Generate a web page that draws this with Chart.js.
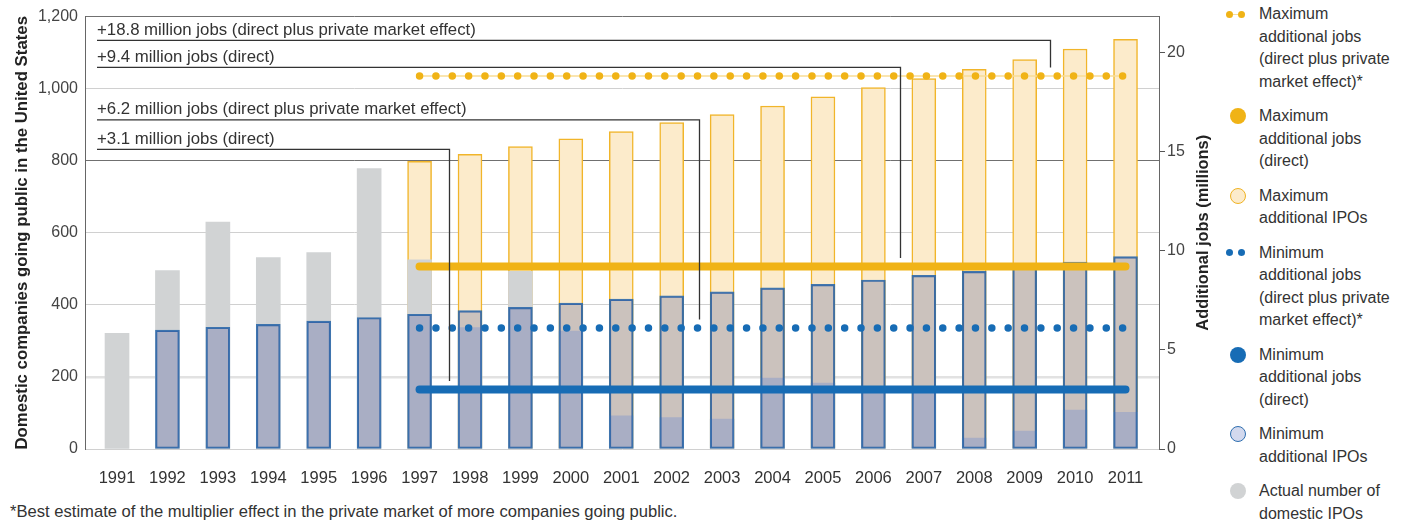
<!DOCTYPE html>
<html>
<head>
<meta charset="utf-8">
<script src="https://cdn.jsdelivr.net/npm/chart.js@4.4.0/dist/chart.umd.min.js"></script>
<style>
  body { margin: 0; width: 1408px; height: 520px; background: #fff; position: relative; overflow: hidden;
         font-family: "Liberation Sans", Arial, sans-serif; color: #333; }
  #chart { position: absolute; left: 0; top: 0; }
  #legend { position: absolute; left: 1222px; top: 3px; width: 186px; }
  .item { position: relative; padding-left: 37px; margin-bottom: 12px; font-size: 16px; line-height: 22.5px; }
  .mk { position: absolute; left: 8px; top: 3px; width: 16px; height: 16px; border-radius: 50%; box-sizing: border-box; }
  .dot { position: absolute; top: 7.75px; width: 7px; height: 7px; border-radius: 50%; }
  .link { position: absolute; left: 7px; top: 10.5px; width: 10px; height: 1.5px; background: #f8dd96; }
  #note { position: absolute; left: 10px; top: 502px; font-size: 16.6px; line-height: 20px; white-space: nowrap; }
</style>
</head>
<body>
<canvas id="chart" width="1220" height="490"></canvas>

<div id="legend">
  <div class="item"><span class="link"></span><span class="dot" style="left:3.5px;background:#f0b316"></span><span class="dot" style="left:16px;background:#f0b316"></span>Maximum<br>additional jobs<br>(direct plus private<br>market effect)*</div>
  <div class="item"><span class="mk" style="background:#f0b316"></span>Maximum<br>additional jobs<br>(direct)</div>
  <div class="item"><span class="mk" style="background:#fcebcb;border:1.5px solid #f0b323"></span>Maximum<br>additional IPOs</div>
  <div class="item"><span class="dot" style="left:3.5px;background:#176cb5"></span><span class="dot" style="left:16px;background:#176cb5"></span>Minimum<br>additional jobs<br>(direct plus private<br>market effect)*</div>
  <div class="item"><span class="mk" style="background:#176cb5"></span>Minimum<br>additional jobs<br>(direct)</div>
  <div class="item"><span class="mk" style="background:#d3d9ee;border:1.5px solid #2f6fb0"></span>Minimum<br>additional IPOs</div>
  <div class="item"><span class="mk" style="background:#d1d3d4"></span>Actual number of<br>domestic IPOs</div>
</div>

<div id="note">*Best estimate of the multiplier effect in the private market of more companies going public.</div>

<script>
// years on the x axis
const years = [1991, 1992, 1993, 1994, 1995, 1996, 1997, 1998, 1999, 2000, 2001,
               2002, 2003, 2004, 2005, 2006, 2007, 2008, 2009, 2010, 2011];

// IPO counts (left axis)
const actualIPOs = [321, 495, 630, 531, 545, 778, 525, 337, 493, 327, 92,
                    87, 83, 197, 183, 165, 160, 30, 50, 108, 102];
const minIPOs = [null, 330, 338, 346, 355, 365, 374, 384, 393, 405, 416,
                 425, 436, 447, 457, 469, 482, 493, 506, 519, 534];
const maxIPOs = [null, null, null, null, null, null, 798, 818, 839, 861, 881,
                 906, 928, 952, 977, 1003, 1028, 1054, 1081, 1110, 1137];

// additional jobs, millions (right axis), drawn from 1997 to 2011
const jobYears = [1997, 2011];
const maxJobsTotal = [18.8, 18.8];
const maxJobsDirect = [9.2, 9.2];
const minJobsTotal = [6.1, 6.1];
const minJobsDirect = [3.0, 3.0];

// callout labels
const calloutLabels = [
  "+18.8 million jobs (direct plus private market effect)",
  "+9.4 million jobs (direct)",
  "+6.2 million jobs (direct plus private market effect)",
  "+3.1 million jobs (direct)"
];
const calloutYears = [2009.5, 2006.53, 2002.55, 1997.58];
const calloutTargets = [maxJobsTotal[0], maxJobsDirect[0], minJobsTotal[0], minJobsDirect[0]];

const FONT = '"Liberation Sans", Arial, sans-serif';

const pts = (xs, ys) => xs.map((x, i) => ({ x: x, y: ys[i] }));

const calloutPlugin = {
  id: "callouts",
  afterDatasetsDraw(chart) {
    const { ctx, chartArea, scales } = chart;
    const rows = [23.7, 50.7, 103.3, 132.7];
    ctx.save();
    ctx.font = "16.8px " + FONT;
    ctx.fillStyle = "#333";
    ctx.strokeStyle = "#333";
    ctx.lineWidth = 1.3;
    ctx.textBaseline = "alphabetic";
    calloutLabels.forEach((text, i) => {
      const rowY = chartArea.top + rows[i];
      const startX = chartArea.left + 12;
      const endX = Math.round(scales.x.getPixelForValue(calloutYears[i])) + 0.5;
      const endY = scales.y2.getPixelForValue(calloutTargets[i]) - 8.5;
      ctx.beginPath();
      ctx.moveTo(startX, rowY);
      ctx.lineTo(endX, rowY);
      ctx.lineTo(endX, endY);
      ctx.stroke();
      ctx.fillText(text, startX, rowY - 5.5);
    });
    // right axis title, reading upward
    ctx.font = "bold 16.4px " + FONT;
    ctx.fillStyle = "#222";
    ctx.translate(scales.y2.left + 44, (chartArea.top + chartArea.bottom) / 2);
    ctx.rotate(-Math.PI / 2);
    ctx.textAlign = "center";
    ctx.textBaseline = "middle";
    ctx.fillText("Additional jobs (millions)", 0, 0);
    ctx.restore();
  }
};

const ctx = document.getElementById("chart").getContext("2d");
new Chart(ctx, {
  type: "bar",
  data: {
    datasets: [
      {
        type: "line", yAxisID: "y2", order: 0,
        data: pts(jobYears, maxJobsTotal),
        borderColor: "#f0b316", borderWidth: 7.5, borderDash: [0, 16.35], borderCapStyle: "round",
        pointRadius: 0
      },
      {
        type: "line", yAxisID: "y2", order: 1,
        data: pts(jobYears, maxJobsTotal),
        borderColor: "#f8dd96", borderWidth: 1.5, pointRadius: 0
      },
      {
        type: "line", yAxisID: "y2", order: 0,
        data: pts(jobYears, maxJobsDirect),
        borderColor: "#f0b316", borderWidth: 8, borderCapStyle: "round", pointRadius: 0
      },
      {
        type: "line", yAxisID: "y2", order: 0,
        data: pts(jobYears, minJobsTotal),
        borderColor: "#176cb5", borderWidth: 7.5, borderDash: [0, 16.35], borderCapStyle: "round",
        pointRadius: 0
      },
      {
        type: "line", yAxisID: "y2", order: 0,
        data: pts(jobYears, minJobsDirect),
        borderColor: "#176cb5", borderWidth: 8, borderCapStyle: "round", pointRadius: 0
      },
      {
        label: "Minimum additional IPOs", yAxisID: "y", order: 5,
        data: pts(years, minIPOs),
        backgroundColor: "rgba(10, 31, 137, 0.2)",
        borderColor: "rgba(45, 105, 170, 0.9)", borderWidth: 1.5, borderSkipped: false
      },
      {
        label: "Actual number of domestic IPOs", yAxisID: "y", order: 6,
        data: pts(years, actualIPOs),
        backgroundColor: "#d1d3d4", borderWidth: 0
      },
      {
        label: "Maximum additional IPOs", yAxisID: "y", order: 7,
        data: pts(years, maxIPOs),
        backgroundColor: "#fcebcb",
        borderColor: "#f1b52a", borderWidth: 1.5
      }
    ]
  },
  options: {
    responsive: false,
    animation: false,
    locale: "en-US",
    layout: { padding: { top: 15, left: 0, right: 0, bottom: 0 } },
    datasets: { bar: { grouped: false, barThickness: 24 } },
    plugins: { legend: { display: false }, tooltip: { enabled: false } },
    scales: {
      x: {
        type: "linear",
        offset: false,
        min: 1990.365,
        max: 2011.664,
        afterBuildTicks: (axis) => { axis.ticks = years.map((v) => ({ value: v })); },
        afterFit: (scale) => { scale.height = 41; },
        grid: { display: false, offset: false },
        border: { display: false },
        ticks: {
          autoSkip: false, maxRotation: 0, padding: 12,
          color: "#333", font: { family: FONT, size: 16.5 },
          callback: (v) => String(v)
        }
      },
      y: {
        position: "left",
        min: 0, max: 1200,
        afterFit: (scale) => { scale.width = 85; },
        border: { display: true, color: "#666", width: 1 },
        grid: {
          drawTicks: false,
          color: (c) => (c.tick && (c.tick.value === 800 || c.tick.value === 1200)) ? "#707070"
                        : (c.tick && c.tick.value === 200 ? "#e2e2e2" : "#d0d0d0"),
          lineWidth: (c) => (c.tick && c.tick.value === 200) ? 2.5 : 1
        },
        ticks: { stepSize: 200, padding: 7, color: "#444", font: { family: FONT, size: 16 } },
        title: {
          display: true,
          text: "Domestic companies going public in the United States",
          color: "#222",
          font: { family: FONT, size: 16.8, weight: "bold" },
          padding: { top: 12, bottom: 0 }
        }
      },
      y2: {
        position: "right",
        min: 0, max: 21.8,
        afterFit: (scale) => { scale.width = 61; },
        border: { display: true, color: "#666", width: 1 },
        grid: { drawOnChartArea: false, drawTicks: true, tickLength: 6, tickColor: "#555" },
        ticks: { stepSize: 5, includeBounds: false, padding: 2, color: "#444", font: { family: FONT, size: 16 } }
      }
    }
  },
  plugins: [calloutPlugin]
});
</script>
</body>
</html>
